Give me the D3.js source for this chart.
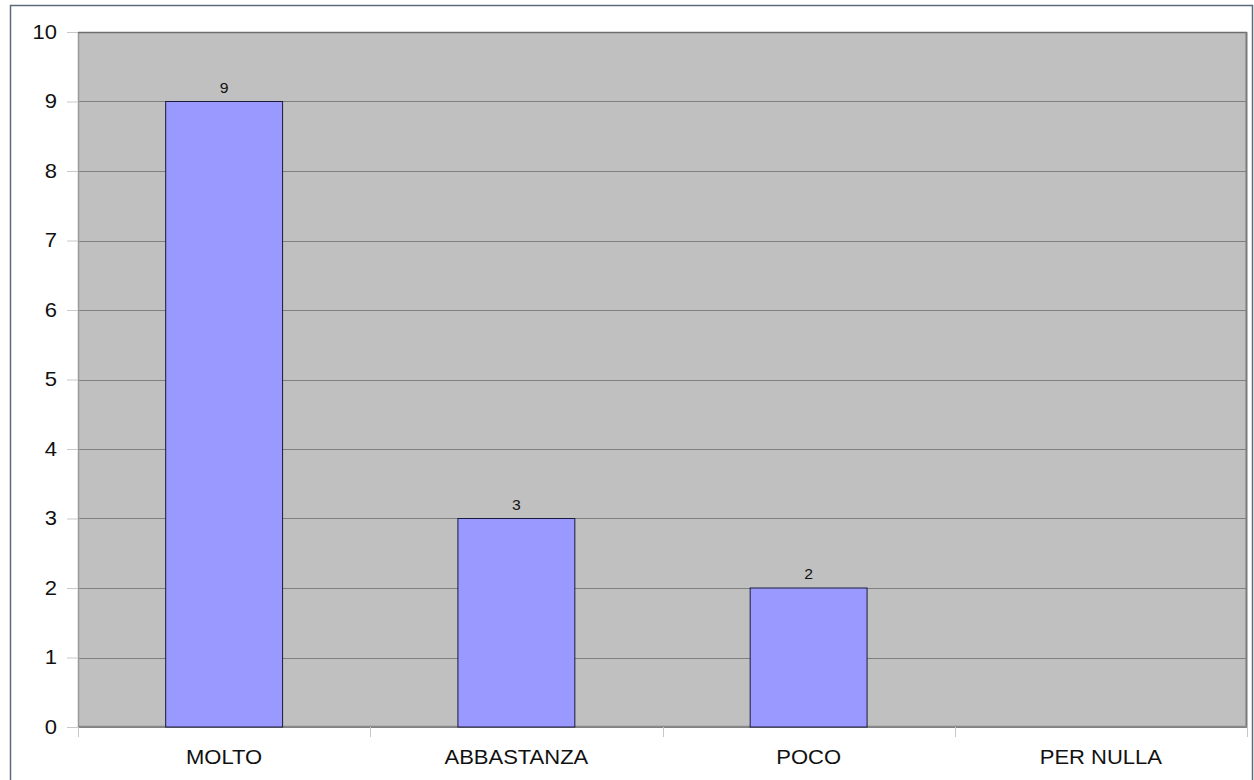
<!DOCTYPE html>
<html>
<head>
<meta charset="utf-8">
<script src="https://cdn.jsdelivr.net/npm/d3@7"></script>
<style>
  body { margin: 0; background: #fff; }
  text { font-family: "Liberation Sans", Arial, sans-serif; fill: #111; }
</style>
</head>
<body>
<script>
// data
const categories = ["MOLTO", "ABBASTANZA", "POCO", "PER NULLA"];
const values = [9, 3, 2, 0];
const yTicks = [0, 1, 2, 3, 4, 5, 6, 7, 8, 9, 10];

const W = 1254, H = 780;
const margin = {top: 32, right: 7, bottom: 53, left: 78};
const width = W - margin.left - margin.right;
const height = H - margin.top - margin.bottom;
const stretch = 1.1; // the reference text is a bit wider than tall

const svg = d3.select("body").append("svg")
    .attr("width", W)
    .attr("height", H);

// outer frame
svg.append("rect")
    .attr("x", 10.5).attr("y", 5.5)
    .attr("width", W - 12).attr("height", H)
    .attr("fill", "#fff")
    .attr("stroke", "#5b6b7b").attr("stroke-width", 1.5);

const g = svg.append("g")
    .attr("transform", `translate(${margin.left},${margin.top})`);

const x = d3.scaleBand().domain(categories).range([0, width]).paddingInner(0).paddingOuter(0);
const y = d3.scaleLinear().domain([0, 10]).range([height, 0]);

// plot background
g.append("rect")
    .attr("width", width).attr("height", height)
    .attr("fill", "#c0c0c0");

// gridlines
g.append("g").selectAll("line").data(yTicks)
  .enter().append("line")
    .attr("x1", 0).attr("x2", width)
    .attr("y1", d => Math.round(y(d)) + 0.5).attr("y2", d => Math.round(y(d)) + 0.5)
    .attr("stroke", "#7f7f7f").attr("stroke-width", 1);

// plot border (3d-ish look)
g.append("line").attr("x1", 0.5).attr("x2", 0.5).attr("y1", 0).attr("y2", height)
    .attr("stroke", "#9a9a9a").attr("stroke-width", 1.5);
g.append("line").attr("x1", 0).attr("x2", width).attr("y1", 0.5).attr("y2", 0.5)
    .attr("stroke", "#6e6e6e").attr("stroke-width", 1.5);
g.append("line").attr("x1", width - 0.5).attr("x2", width - 0.5).attr("y1", 0).attr("y2", height)
    .attr("stroke", "#7a7a7a").attr("stroke-width", 2);
g.append("line").attr("x1", 0).attr("x2", width).attr("y1", height - 0.5).attr("y2", height - 0.5)
    .attr("stroke", "#8a8a8a").attr("stroke-width", 1.5);

// y axis
const yAxis = d3.axisLeft(y).tickValues(yTicks).tickSize(11).tickPadding(10).tickFormat(d3.format("d"));
const gy = g.append("g").call(yAxis);
gy.select(".domain").remove();
gy.selectAll(".tick line").attr("stroke", "#c8c8c8");
gy.selectAll(".tick text")
    .attr("x", null)
    .attr("font-size", 20)
    .attr("transform", `translate(-21,0) scale(${stretch},1)`)
    .style("font-family", "Liberation Sans, Arial, sans-serif");

// x axis ticks at category boundaries
const bounds = categories.map(c => x(c)).concat([width]);
g.append("g").selectAll("line").data(bounds)
  .enter().append("line")
    .attr("x1", d => Math.round(d) + 0.5).attr("x2", d => Math.round(d) + 0.5)
    .attr("y1", height).attr("y2", height + 10)
    .attr("stroke", "#c8c8c8");

g.append("g").selectAll("text").data(categories)
  .enter().append("text")
    .attr("transform", d => `translate(${x(d) + x.bandwidth() / 2},${height + 37}) scale(${stretch},1)`)
    .attr("text-anchor", "middle")
    .attr("font-size", 20)
    .text(d => d);

// bars
const barW = x.bandwidth() * 0.4;
const data = categories.map((c, i) => ({cat: c, value: values[i]}));
g.append("g").selectAll("rect").data(data.filter(d => d.value > 0))
  .enter().append("rect")
    .attr("x", d => x(d.cat) + (x.bandwidth() - barW) / 2)
    .attr("y", d => y(d.value))
    .attr("width", barW)
    .attr("height", d => height - y(d.value))
    .attr("fill", "#9999ff")
    .attr("stroke", "#1a1a3a").attr("stroke-width", 1);

// value labels
g.append("g").selectAll("text").data(data.filter(d => d.value > 0))
  .enter().append("text")
    .attr("transform", d => `translate(${x(d.cat) + x.bandwidth() / 2},${y(d.value) - 9}) scale(1.05,1)`)
    .attr("text-anchor", "middle")
    .attr("font-size", 15)
    .text(d => d.value);
</script>
</body>
</html>
